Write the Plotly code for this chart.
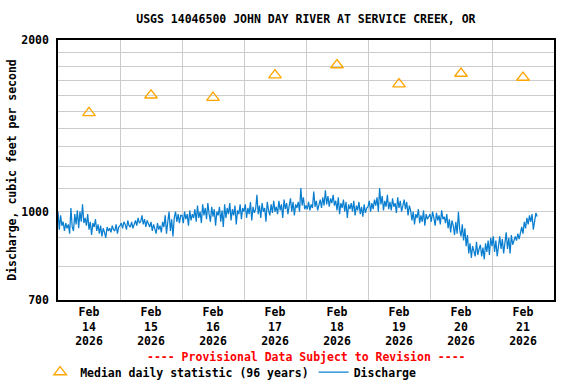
import pandas as pd
import plotly.graph_objects as go

# Median daily statistic (96 years), one per day at noon
median_dates = ["2026-02-14 12:00", "2026-02-15 12:00", "2026-02-16 12:00", "2026-02-17 12:00",
                "2026-02-18 12:00", "2026-02-19 12:00", "2026-02-20 12:00", "2026-02-21 12:00"]
median_values = [1490, 1600, 1585, 1736, 1808, 1674, 1747, 1719]

# Discharge, cfs, 30-minute readings starting Feb 14 2026 00:00
day14 = [1000, 930, 985, 945, 960, 925, 955, 935, 950, 915, 1015, 940, 925, 990,
         950, 1005, 935, 1000, 960, 1030, 955, 975, 945, 990, 930, 960, 910, 955, 940, 970, 925, 950,
         915, 945, 905, 935, 920, 900, 940, 925, 935, 920, 945, 930, 925, 950, 915, 940]
day15 = [945, 955, 935, 960, 950, 930, 965, 945, 940, 960, 935, 955,
         965, 945, 975, 955, 960, 985, 950, 970, 940, 965, 955,
         940, 960, 925, 950, 935, 915, 955, 930, 945, 920, 960, 940,
         985, 915, 960, 1000, 925, 970, 905, 975, 1000, 960, 990, 955, 985]
day16 = [985, 955, 1000, 970, 990, 945, 1005, 965, 990, 975,
         1010, 960, 1025, 975, 1000, 955, 1030, 985, 1015, 970, 1035, 990, 960, 1020, 980, 1010, 945, 1000,
         985, 1020, 960, 1005, 940, 1030, 975, 1015, 990, 1035, 965, 1010, 985, 1025, 950, 1005, 990, 1030, 970, 1015]
day17 = [1000, 1030, 975, 1015, 990, 1040, 965, 1020, 995, 1010,
         1070, 990, 1025, 975, 1035, 1000, 1015, 960, 1040, 1005, 985, 1030, 995, 1045, 1000,
         1020, 990, 1045, 1005, 1030, 975, 1050, 1010, 1035, 990, 1025, 1055, 1000, 1040, 985, 1030, 1015,
         1040, 1000, 1100, 1025, 1060, 1010]
day18 = [1025, 1010, 1040, 1005, 1030, 1015, 1085, 1020, 1045, 1005, 1035,
         1050, 1015, 1060, 1025, 1090, 1030, 1065, 1020, 1055, 1035, 1070, 1025,
         1045, 1005, 1060, 990, 1035, 1015, 1050, 1000, 1040, 975, 1030, 1010,
         1035, 1000, 1045, 985, 1025, 1005, 1040, 990, 1020, 980, 1030, 995, 1015]
day19 = [1020, 1045, 1000, 1035, 1010, 1050,
         1025, 1060, 1000, 1100, 1030, 1065, 1005, 1045, 1020, 1070, 1010,
         1040, 1005, 1055, 1020, 1035, 995, 1060, 1015, 1045, 1000, 1030, 1050, 1010, 1040, 985, 1025,
         1005, 965, 1000, 950, 990, 975, 1010, 955, 985, 960, 1005, 945, 990, 970, 980]
day20 = [990, 960, 1000, 975, 945, 995, 965, 985, 950, 1005, 970, 980,
         955, 990, 935, 970, 920, 965, 945, 910,
         960, 915, 1000, 930, 905, 950, 890, 935, 870, 910,
         845, 880, 830, 870, 855, 835, 885, 840, 860,
         875, 835, 865, 825, 880, 850, 890, 840, 900]
day21 = [870, 905, 850, 890, 835, 880, 905, 860, 895, 845,
         885, 920, 860, 900, 845, 910, 875, 895,
         905, 890, 915, 895, 920, 940, 915, 960, 935, 975, 950,
         985, 960, 990, 930, 975, 995, 980]
discharge_values = day14 + day15 + day16 + day17 + day18 + day19 + day20 + day21
discharge_times = pd.date_range("2026-02-14 00:00", periods=len(discharge_values), freq="30min")

y_tickvals = [700, 800, 900, 1000, 1100, 1200, 1300, 1400, 1500, 1600, 1700, 1800, 1900, 2000]
y_ticktext = ["700", "", "", "1000", "", "", "", "", "", "", "", "", "", "2000"]

FONT = "DejaVu Sans Mono"

fig = go.Figure()
fig.add_trace(go.Scatter(
    x=median_dates, y=median_values, mode="markers",
    name="Median daily statistic (96 years)",
    marker=dict(symbol="triangle-up-open", size=11, color="#ffa500", line=dict(width=1.3, color="#ffa500")),
))
fig.add_trace(go.Scatter(
    x=discharge_times, y=discharge_values, mode="lines",
    name="Discharge", line=dict(color="#0a7fd0", width=1.25),
))

fig.update_layout(
    width=576, height=384,
    margin=dict(l=58, r=22, t=40, b=84, autoexpand=False),
    paper_bgcolor="white", plot_bgcolor="white",
    font=dict(family=FONT, size=11, color="black", weight="bold"),
    title=dict(text="USGS 14046500 JOHN DAY RIVER AT SERVICE CREEK, OR",
               x=0.531, xanchor="center", y=0.95, yanchor="middle",
               font=dict(family=FONT, size=11.5, color="black", weight="bold")),
    showlegend=True,
    legend=dict(orientation="h", x=-0.036, xanchor="left", y=-0.277, yanchor="middle",
                font=dict(family=FONT, size=11.5, color="black", weight="bold"),
                itemwidth=30, bgcolor="rgba(0,0,0,0)", tracegroupgap=0),
    xaxis=dict(
        type="date", range=["2026-02-14 00:00", "2026-02-22 00:00"],
        tick0="2026-02-14", dtick=86400000, ticklabelmode="period",
        tickformat="%b<br>%d<br>%Y", ticks="", automargin=False,
        showgrid=True, gridcolor="#cccccc", gridwidth=1.3,
        showline=True, linecolor="black", linewidth=1.5, mirror=True,
        tickfont=dict(family=FONT, size=11.5, color="black", weight="bold"),
        zeroline=False,
    ),
    yaxis=dict(
        type="log", range=[2.845098, 3.30103], automargin=False,
        tickmode="array", tickvals=y_tickvals, ticktext=y_ticktext, ticks="",
        ticklabelstandoff=5,
        showgrid=True, gridcolor="#cccccc", gridwidth=1.3,
        showline=True, linecolor="black", linewidth=1.5, mirror=True,
        tickfont=dict(family=FONT, size=11.5, color="black", weight="bold"),
        title=dict(text="Discharge, cubic feet per second", standoff=2,
                   font=dict(family=FONT, size=11.5, color="black", weight="bold")),
        zeroline=False,
    ),
    annotations=[dict(
        text="---- Provisional Data Subject to Revision ----",
        xref="paper", yref="paper", x=0.5, y=-0.22, xanchor="center", yanchor="middle",
        showarrow=False, font=dict(family=FONT, size=11.5, color="red", weight="bold"),
    )],
)

fig.write_html("out.html", config={"displayModeBar": False},
               post_script="document.body.style.margin='0px';")
